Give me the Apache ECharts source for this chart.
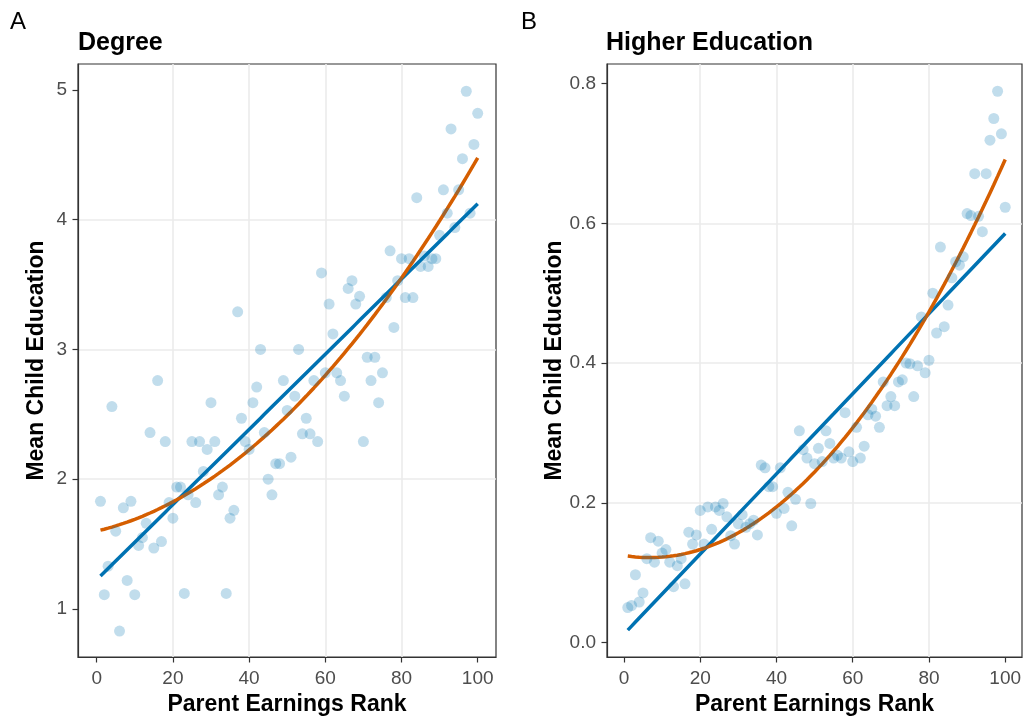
<!DOCTYPE html>
<html>
<head>
<meta charset="utf-8">
<script src="https://cdn.jsdelivr.net/npm/echarts@6/dist/echarts.min.js"></script>
<style>
  html, body { margin: 0; padding: 0; background: #ffffff; }
  #chart { width: 1025px; height: 716px; }
</style>
</head>
<body>
<div id="chart"></div>
<script>
// Parent earnings percentile rank (x) shared by both panels
const ranks = [
  1, 2, 3, 4, 5, 6, 7, 8, 9, 10,
  11, 12, 13, 14, 15, 16, 17, 18, 19, 20,
  21, 22, 23, 24, 25, 26, 27, 28, 29, 30,
  31, 32, 33, 34, 35, 36, 37, 38, 39, 40,
  41, 42, 43, 44, 45, 46, 47, 48, 49, 50,
  51, 52, 53, 54, 55, 56, 57, 58, 59, 60,
  61, 62, 63, 64, 65, 66, 67, 68, 69, 70,
  71, 72, 73, 74, 75, 76, 77, 78, 79, 80,
  81, 82, 83, 84, 85, 86, 87, 88, 89, 90,
  91, 92, 93, 94, 95, 96, 97, 98, 99, 100
];

// Panel A: mean child education (degree) by parent rank
const degreeMeans = [
  1.83, 1.11, 1.33, 2.56, 1.60, 0.83, 1.78, 1.22, 1.83, 1.11,
  1.49, 1.55, 1.66, 2.36, 1.47, 2.76, 1.52, 2.29, 1.82, 1.70,
  1.94, 1.94, 1.12, 1.88, 2.29, 1.82, 2.29, 2.06, 2.23, 2.59,
  2.29, 1.88, 1.94, 1.12, 1.70, 1.76, 3.29, 2.47, 2.29, 2.23,
  2.59, 2.71, 3.00, 2.36, 2.00, 1.88, 2.12, 2.12, 2.76, 2.53,
  2.17, 2.64, 3.00, 2.35, 2.47, 2.35, 2.76, 2.29, 3.59, 2.82,
  3.35, 3.12, 2.82, 2.76, 2.64, 3.47, 3.53, 3.35, 3.41, 2.29,
  2.94, 2.76, 2.94, 2.59, 2.82, 3.40, 3.76, 3.17, 3.53, 3.70,
  3.40, 3.70, 3.40, 4.17, 3.64, 3.72, 3.64, 3.70, 3.70, 3.88,
  4.23, 4.05, 4.70, 3.94, 4.23, 4.47, 4.99, 4.05, 4.58, 4.82
];

// Panel B: mean child education (higher education) by parent rank
const higherEdMeans = [
  0.050, 0.053, 0.097, 0.058, 0.071, 0.120, 0.150, 0.115, 0.145, 0.128,
  0.133, 0.115, 0.080, 0.110, 0.120, 0.084, 0.158, 0.141, 0.154, 0.189,
  0.141, 0.194, 0.162, 0.194, 0.189, 0.199, 0.180, 0.153, 0.141, 0.170,
  0.183, 0.165, 0.170, 0.175, 0.154, 0.254, 0.250, 0.223, 0.223, 0.185,
  0.250, 0.192, 0.215, 0.167, 0.205, 0.303, 0.276, 0.264, 0.199, 0.256,
  0.278, 0.259, 0.303, 0.285, 0.264, 0.268, 0.264, 0.329, 0.273, 0.259,
  0.308, 0.264, 0.281, 0.326, 0.334, 0.324, 0.308, 0.373, 0.339, 0.352,
  0.339, 0.373, 0.376, 0.400, 0.399, 0.352, 0.396, 0.466, 0.386, 0.404,
  0.500, 0.443, 0.566, 0.452, 0.483, 0.522, 0.545, 0.540, 0.552, 0.614,
  0.611, 0.671, 0.610, 0.588, 0.671, 0.719, 0.750, 0.789, 0.728, 0.623
];

// Tick labels
const rankTicks = [0, 20, 40, 60, 80, 100];
const degreeTicks = [1, 2, 3, 4, 5];
const higherEdTicks = [0, 0.2, 0.4, 0.6, 0.8];

// Least-squares polynomial fit (normal equations + Gaussian elimination)
function polyFit(xs, ys, degree) {
  const n = degree + 1;
  const A = [];
  for (let r = 0; r < n; r++) {
    A.push(new Array(n + 1).fill(0));
  }
  for (let i = 0; i < xs.length; i++) {
    for (let r = 0; r < n; r++) {
      for (let c = 0; c < n; c++) A[r][c] += Math.pow(xs[i], r + c);
      A[r][n] += ys[i] * Math.pow(xs[i], r);
    }
  }
  for (let p = 0; p < n; p++) {
    let best = p;
    for (let r = p + 1; r < n; r++) if (Math.abs(A[r][p]) > Math.abs(A[best][p])) best = r;
    [A[p], A[best]] = [A[best], A[p]];
    for (let r = 0; r < n; r++) {
      if (r === p) continue;
      const f = A[r][p] / A[p][p];
      for (let c = p; c <= n; c++) A[r][c] -= f * A[p][c];
    }
  }
  return A.map((row, i) => row[n] / row[i]);
}

function fitted(xs, ys, degree) {
  const coef = polyFit(xs, ys, degree);
  return xs.map(x => [x, coef.reduce((s, b, k) => s + b * Math.pow(x, k), 0)]);
}

const pairs = (xs, ys) => xs.map((x, i) => [x, ys[i]]);

const FONT = '"Liberation Sans", Arial, Helvetica, sans-serif';
const BLUE = '#0072B2';
const ORANGE = '#D55E00';
const POINT = 'rgba(0, 114, 178, 0.3)';
const GRID_LINE = '#ebebeb';
const FRAME = '#333333';

function xAxisFor(gridIndex, min, max) {
  return {
    type: 'value', gridIndex, min, max,
    name: 'Parent Earnings Rank', nameLocation: 'middle', nameGap: 35,
    nameTextStyle: { fontFamily: FONT, fontSize: 23, fontWeight: 'bold', color: '#000' },
    axisLine: { show: true, onZero: false, lineStyle: { color: FRAME, width: 1.2 } },
    axisTick: { show: true, length: 5.5, customValues: rankTicks, lineStyle: { color: FRAME, width: 1.2 } },
    axisLabel: { customValues: rankTicks, margin: 12, fontFamily: FONT, fontSize: 19, color: '#4d4d4d' },
    splitLine: { show: true, showMinLine: false, showMaxLine: false, lineStyle: { color: GRID_LINE, width: 1.6 } }
  };
}

function yAxisFor(gridIndex, min, max, ticks, fmt, gap) {
  return {
    type: 'value', gridIndex, min, max,
    name: 'Mean Child Education', nameLocation: 'middle', nameGap: gap, nameRotate: 90,
    nameTextStyle: { fontFamily: FONT, fontSize: 23, fontWeight: 'bold', color: '#000' },
    axisLine: { show: true, onZero: false, lineStyle: { color: FRAME, width: 1.2 } },
    axisTick: { show: true, length: 5.5, customValues: ticks, lineStyle: { color: FRAME, width: 1.2 } },
    axisLabel: { customValues: ticks, margin: 11, fontFamily: FONT, fontSize: 19, color: '#4d4d4d', formatter: fmt },
    splitLine: { show: true, showMinLine: false, showMaxLine: false, lineStyle: { color: GRID_LINE, width: 1.6 } }
  };
}

function fitSeries(idx, data, color) {
  return {
    type: 'line', xAxisIndex: idx, yAxisIndex: idx, data,
    showSymbol: false, symbol: 'none', smooth: false, silent: true,
    lineStyle: { color, width: 3.5 }, z: 2
  };
}

function pointSeries(idx, data) {
  return {
    type: 'scatter', xAxisIndex: idx, yAxisIndex: idx, data,
    symbol: 'circle', symbolSize: 11,
    itemStyle: { color: POINT, borderWidth: 0 }, z: 3
  };
}

const chart = echarts.init(document.getElementById('chart'), null, { renderer: 'canvas' });

chart.setOption({
  animation: false,
  backgroundColor: '#ffffff',
  title: [
    { text: 'A', left: 5, top: 5, textStyle: { fontFamily: FONT, fontSize: 24, fontWeight: 'normal', color: '#000' } },
    { text: 'Degree', left: 73, top: 26, textStyle: { fontFamily: FONT, fontSize: 25, fontWeight: 'bold', color: '#000' } },
    { text: 'B', left: 516, top: 5, textStyle: { fontFamily: FONT, fontSize: 24, fontWeight: 'normal', color: '#000' } },
    { text: 'Higher Education', left: 601, top: 26, textStyle: { fontFamily: FONT, fontSize: 25, fontWeight: 'bold', color: '#000' } }
  ],
  grid: [
    { left: 78, top: 64, width: 418, height: 593, outerBoundsMode: 'none', containLabel: false,
      show: true, borderColor: FRAME, borderWidth: 1.2, backgroundColor: '#ffffff' },
    { left: 607, top: 64, width: 415, height: 593, outerBoundsMode: 'none', containLabel: false,
      show: true, borderColor: FRAME, borderWidth: 1.2, backgroundColor: '#ffffff' }
  ],
  xAxis: [
    xAxisFor(0, -4.9, 104.8),
    xAxisFor(1, -4.45, 104.4)
  ],
  yAxis: [
    yAxisFor(0, 0.63, 5.2, degreeTicks, v => String(v), 30),
    yAxisFor(1, -0.0207, 0.828, higherEdTicks, v => Number(v).toFixed(1), 40)
  ],
  series: [
    fitSeries(0, fitted(ranks, degreeMeans, 1), BLUE),
    fitSeries(0, fitted(ranks, degreeMeans, 2), ORANGE),
    pointSeries(0, pairs(ranks, degreeMeans)),
    fitSeries(1, fitted(ranks, higherEdMeans, 1), BLUE),
    fitSeries(1, fitted(ranks, higherEdMeans, 2), ORANGE),
    pointSeries(1, pairs(ranks, higherEdMeans))
  ]
});
</script>
</body>
</html>
